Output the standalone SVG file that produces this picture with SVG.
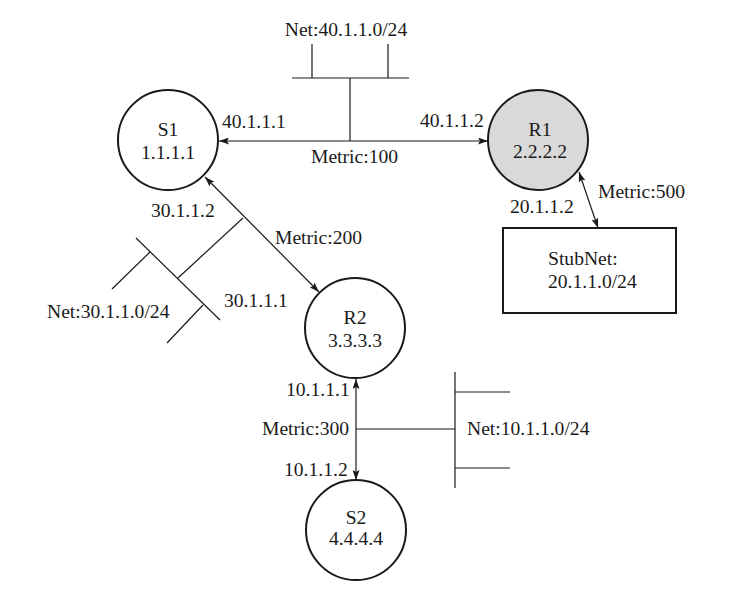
<svg xmlns="http://www.w3.org/2000/svg" width="742" height="597" viewBox="0 0 742 597">
  <style>
    text { font-family: "Liberation Serif", "Times New Roman", serif; font-size: 19.6px; fill: #1a1a1a; }
    .mid { text-anchor: middle; }
    .node { fill: #ffffff; stroke: #1a1a1a; stroke-width: 2; }
    .router { fill: #d9d9d9; stroke: #1a1a1a; stroke-width: 2; }
    .link { stroke: #1a1a1a; stroke-width: 1.2; fill: none; }
    .bus { stroke: #1a1a1a; stroke-width: 1.2; fill: none; }
  </style>
  <defs>
    <marker id="arrow" markerUnits="userSpaceOnUse" markerWidth="11" markerHeight="7" refX="10" refY="3.5" orient="auto-start-reverse">
      <path d="M0,0 L10,3.5 L0,7 L2,3.5 z" fill="#1a1a1a"/>
    </marker>
  </defs>
  <rect width="742" height="597" fill="#ffffff"/>

  <!-- point-to-point links and broadcast segments -->
  <g id="connectors">
    <line class="link" x1="219" y1="141" x2="488" y2="141" marker-start="url(#arrow)" marker-end="url(#arrow)"/>
    <line class="link" x1="205" y1="177" x2="319" y2="292" marker-start="url(#arrow)" marker-end="url(#arrow)"/>
    <line class="link" x1="579" y1="172" x2="598" y2="228" marker-start="url(#arrow)" marker-end="url(#arrow)"/>
    <line class="link" x1="356" y1="379" x2="356" y2="480" marker-start="url(#arrow)" marker-end="url(#arrow)"/>

    <!-- Net 40.1.1.0/24 -->
    <g id="net40">
      <line class="bus" x1="350" y1="141" x2="350" y2="78"/>
      <line class="bus" x1="292" y1="78" x2="409" y2="78"/>
      <line class="bus" x1="312" y1="78" x2="312" y2="44"/>
      <line class="bus" x1="388" y1="78" x2="388" y2="44"/>
    </g>

    <!-- Net 30.1.1.0/24 -->
    <g id="net30">
      <line class="bus" x1="243" y1="218" x2="178" y2="278"/>
      <line class="bus" x1="136" y1="238" x2="220" y2="320"/>
      <line class="bus" x1="150" y1="252" x2="112" y2="289"/>
      <line class="bus" x1="203" y1="305" x2="167" y2="343"/>
    </g>

    <!-- Net 10.1.1.0/24 -->
    <g id="net10">
      <line class="bus" x1="356" y1="429" x2="455" y2="429"/>
      <line class="bus" x1="455" y1="372" x2="455" y2="488"/>
      <line class="bus" x1="455" y1="392" x2="510" y2="392"/>
      <line class="bus" x1="455" y1="468" x2="510" y2="468"/>
    </g>
  </g>

  <g id="S1">
    <circle class="node" cx="168" cy="140" r="50"/>
    <text class="mid" x="168" y="136">S1</text>
    <text class="mid" x="168" y="159">1.1.1.1</text>
  </g>

  <g id="R1">
    <circle class="router" cx="538" cy="140" r="50"/>
    <text class="mid" x="540" y="136">R1</text>
    <text class="mid" x="540" y="158">2.2.2.2</text>
  </g>

  <g id="R2">
    <circle class="node" cx="355" cy="328" r="50"/>
    <text class="mid" x="355" y="324">R2</text>
    <text class="mid" x="355" y="347">3.3.3.3</text>
  </g>

  <g id="S2">
    <circle class="node" cx="356" cy="530" r="50"/>
    <text class="mid" x="356" y="524">S2</text>
    <text class="mid" x="356" y="545">4.4.4.4</text>
  </g>

  <g id="StubNet">
    <rect class="node" x="503" y="228" width="173" height="85"/>
    <text x="548" y="265">StubNet:</text>
    <text x="548" y="288">20.1.1.0/24</text>
  </g>

  <g id="labels">
    <text class="mid" x="346" y="36">Net:40.1.1.0/24</text>
    <text x="222" y="128">40.1.1.1</text>
    <text x="420" y="127">40.1.1.2</text>
    <text x="311" y="163">Metric:100</text>
    <text x="598" y="198">Metric:500</text>
    <text x="510" y="213">20.1.1.2</text>
    <text x="151" y="217">30.1.1.2</text>
    <text x="275" y="244">Metric:200</text>
    <text x="224" y="307">30.1.1.1</text>
    <text x="47" y="318">Net:30.1.1.0/24</text>
    <text x="286" y="396">10.1.1.1</text>
    <text x="262" y="435">Metric:300</text>
    <text x="284" y="476">10.1.1.2</text>
    <text x="467" y="435">Net:10.1.1.0/24</text>
  </g>
</svg>
